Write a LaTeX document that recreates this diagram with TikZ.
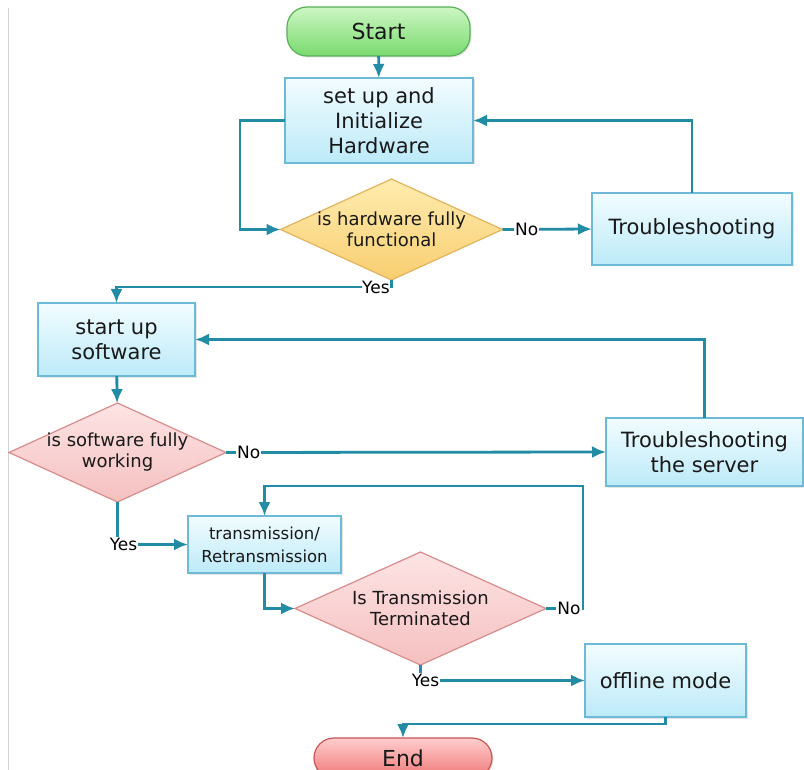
\documentclass[tikz,border=0pt]{standalone}
\usepackage{fontspec}
\setmainfont{DejaVu Sans}
\usetikzlibrary{arrows.meta,shapes.geometric,shadows}
\definecolor{conn}{RGB}{35,140,165}
\definecolor{txt}{RGB}{25,25,25}
\definecolor{boxline}{RGB}{110,185,215}
\definecolor{boxtop}{RGB}{242,252,255}
\definecolor{boxbot}{RGB}{188,234,248}
\definecolor{stline}{RGB}{90,175,90}
\definecolor{sttop}{RGB}{205,246,195}
\definecolor{stbot}{RGB}{120,218,110}
\definecolor{hwline}{RGB}{225,180,95}
\definecolor{hwtop}{RGB}{255,236,175}
\definecolor{hwbot}{RGB}{248,206,112}
\definecolor{pkline}{RGB}{215,140,140}
\definecolor{pktop}{RGB}{253,228,228}
\definecolor{pkbot}{RGB}{245,192,192}
\definecolor{enline}{RGB}{200,85,85}
\definecolor{entop}{RGB}{255,205,205}
\definecolor{enbot}{RGB}{240,120,120}
\begin{document}
\begin{tikzpicture}[x=1pt,y=-1pt,
  arr/.style={draw=conn, line width=2.8pt, -{Latex[length=14pt,width=12pt]}},
  box/.style={rectangle, draw=boxline, line width=1.2pt, top color=boxtop, bottom color=boxbot,
    inner sep=2pt, outer sep=0pt, align=center, text=txt, font=\fontsize{21}{25}\selectfont,
    drop shadow={opacity=0.2,shadow xshift=1.5pt,shadow yshift=-1.5pt}},
  pill/.style={box, rounded corners=20pt, font=\fontsize{22}{25}\selectfont},
  dia/.style={diamond, line width=1.2pt, inner sep=0pt, outer sep=0pt, aspect=2},
  dtext/.style={align=center, text=txt, font=\fontsize{18}{21}\selectfont},
  lbl/.style={fill=white, inner sep=1pt, text=black, font=\fontsize{17}{19}\selectfont}
]
\useasboundingbox (0,0) rectangle (804,770);
\fill[white] (0,0) rectangle (804,770);
\draw[gray!35, line width=1pt] (8,8) -- (8,770);

% nodes
\node[pill, draw=stline, top color=sttop, bottom color=stbot, minimum width=183pt, minimum height=49pt] (start) at (378.5,31.5) {Start};
\node[box, minimum width=188pt, minimum height=85pt] (setup) at (379,120.5) {set up and\\Initialize\\Hardware};
\node[dia, draw=hwline, top color=hwtop, bottom color=hwbot, minimum width=222pt, minimum height=101pt,
  label={[dtext]center:is hardware fully\\functional}] (hw) at (391.5,229.5) {};
\node[box, minimum width=200pt, minimum height=72pt] (trouble) at (692,229) {Troubleshooting};
\node[box, minimum width=157pt, minimum height=73pt] (startup) at (116.5,339.5) {start up\\software};
\node[dia, draw=pkline, top color=pktop, bottom color=pkbot, minimum width=217pt, minimum height=99pt,
  label={[dtext]center:is software fully\\working}] (sw) at (117.5,452.5) {};
\node[box, minimum width=197pt, minimum height=68pt] (server) at (704.5,452) {Troubleshooting\\the server};
\node[box, minimum width=153pt, minimum height=57pt, font=\fontsize{16.5}{23}\selectfont] (trans) at (264.5,544.5) {transmission/\\Retransmission};
\node[dia, draw=pkline, top color=pktop, bottom color=pkbot, minimum width=251pt, minimum height=113pt,
  label={[dtext]center:Is Transmission\\Terminated}] (term) at (420.5,608.5) {};
\node[box, minimum width=161pt, minimum height=73pt] (offline) at (665.5,680.5) {offline mode};
\node[pill, draw=enline, top color=entop, bottom color=enbot, minimum width=178pt, minimum height=40pt] (end) at (403,758) {End};
\coordinate (loopR) at (583,486);

% connectors
\draw[arr] (start) -- (setup);
\draw[arr] (hw.east) -- node[lbl,pos=0.27]{No} (trouble.west);
\draw[arr] (trouble.north) |- (setup.east);
\draw[arr] (setup.west) -- ++(-45,0) |- (hw.west);
\draw[arr] (hw.south) -- ++(0,7) node[lbl,anchor=east,inner sep=0.5pt]{Yes} -| (startup.north);
\draw[arr] (startup) -- (sw);
\draw[arr] (sw.east) -- node[lbl,pos=0.06]{No} (server.west);
\draw[arr] (server.north) |- (startup.east);
\draw[arr] (sw.south) |- node[lbl,pos=0.5,xshift=6pt]{Yes} (trans.west);
\draw[arr] (trans.south) |- (term.west);
\draw[arr] (term.east) -- (term.east -| loopR) node[lbl,anchor=east]{No} -- (loopR) -| (trans.north);
\draw[arr] (term.south) |- node[lbl,pos=0.5,xshift=5pt]{Yes} (offline.west);
\draw[arr] (offline.south) -- ++(0,7) -| (end.north);
\end{tikzpicture}
\end{document}
